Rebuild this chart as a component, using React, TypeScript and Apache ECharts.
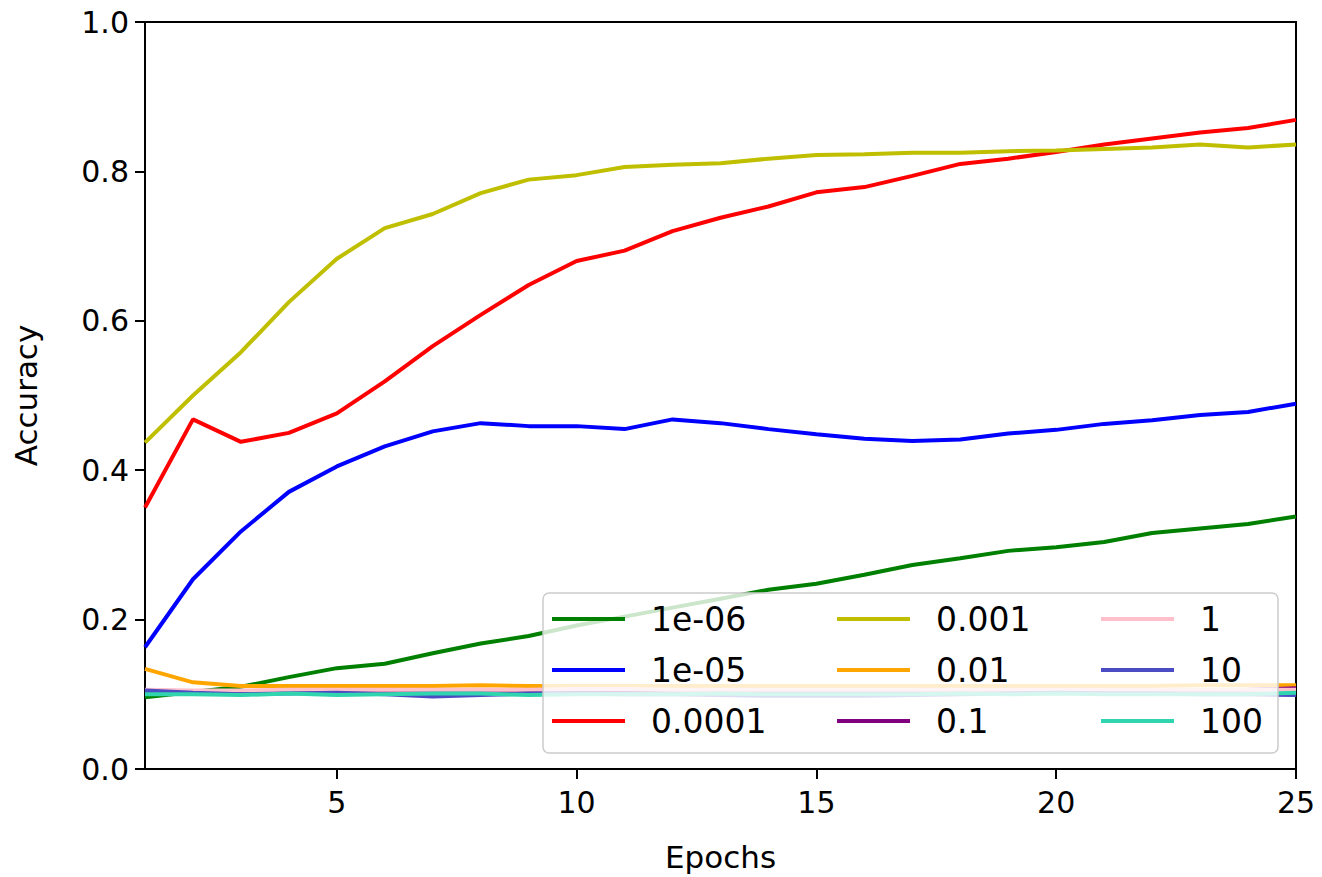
import React, { useEffect, useRef } from 'react';
import * as echarts from 'echarts';

const epochs = [1, 2, 3, 4, 5, 6, 7, 8, 9, 10, 11, 12, 13, 14, 15, 16, 17, 18, 19, 20, 21, 22, 23, 24, 25];
const xTicks = [5, 10, 15, 20, 25];

const seriesNames = ['1e-06', '1e-05', '0.0001', '0.001', '0.01', '0.1', '1', '10', '100'];
const seriesColors = ['#008000', '#0000ff', '#ff0000', '#bfbf00', '#ffa500', '#800080', '#ffc0cb', '#4b4bc4', '#30d5b0'];

const acc1e06 = [0.096, 0.103, 0.110, 0.123, 0.135, 0.141, 0.155, 0.168, 0.178, 0.192, 0.204, 0.216, 0.228, 0.240, 0.248, 0.260, 0.273, 0.282, 0.292, 0.297, 0.304, 0.316, 0.322, 0.328, 0.338];
const acc1e05 = [0.163, 0.254, 0.318, 0.371, 0.405, 0.432, 0.452, 0.463, 0.459, 0.459, 0.455, 0.468, 0.463, 0.455, 0.448, 0.442, 0.439, 0.441, 0.449, 0.454, 0.462, 0.467, 0.474, 0.478, 0.489];
const acc1e04 = [0.350, 0.468, 0.438, 0.450, 0.476, 0.519, 0.566, 0.608, 0.648, 0.680, 0.694, 0.720, 0.738, 0.753, 0.772, 0.779, 0.794, 0.810, 0.817, 0.826, 0.836, 0.844, 0.852, 0.858, 0.869];
const acc1e03 = [0.437, 0.500, 0.558, 0.625, 0.683, 0.724, 0.743, 0.771, 0.789, 0.795, 0.806, 0.809, 0.811, 0.817, 0.822, 0.823, 0.825, 0.825, 0.827, 0.828, 0.830, 0.832, 0.836, 0.832, 0.836];
const acc1e02 = [0.134, 0.116, 0.111, 0.111, 0.111, 0.111, 0.111, 0.112, 0.111, 0.111, 0.111, 0.111, 0.111, 0.111, 0.111, 0.111, 0.111, 0.111, 0.111, 0.111, 0.111, 0.111, 0.112, 0.112, 0.112];
const acc1e01 = [0.104, 0.104, 0.103, 0.104, 0.104, 0.104, 0.104, 0.104, 0.104, 0.105, 0.104, 0.104, 0.104, 0.104, 0.104, 0.104, 0.104, 0.104, 0.104, 0.104, 0.104, 0.104, 0.105, 0.106, 0.108];
const acc1e00 = [0.106, 0.105, 0.105, 0.106, 0.106, 0.106, 0.106, 0.106, 0.106, 0.107, 0.107, 0.106, 0.106, 0.106, 0.106, 0.106, 0.106, 0.106, 0.106, 0.106, 0.106, 0.106, 0.106, 0.106, 0.106];
const acc1e1 = [0.105, 0.102, 0.100, 0.101, 0.102, 0.100, 0.097, 0.099, 0.101, 0.101, 0.100, 0.100, 0.099, 0.098, 0.098, 0.098, 0.099, 0.100, 0.101, 0.102, 0.101, 0.101, 0.100, 0.100, 0.099];
const acc1e2 = [0.100, 0.100, 0.099, 0.101, 0.099, 0.100, 0.101, 0.101, 0.099, 0.100, 0.100, 0.100, 0.101, 0.100, 0.100, 0.100, 0.100, 0.101, 0.100, 0.101, 0.100, 0.100, 0.100, 0.100, 0.102];

const seriesValues = [acc1e06, acc1e05, acc1e04, acc1e03, acc1e02, acc1e01, acc1e00, acc1e1, acc1e2];

const legendColumns = [
  ['1e-06', '1e-05', '0.0001'],
  ['0.001', '0.01', '0.1'],
  ['1', '10', '100'],
];
const legendLefts = [552, 837, 1101];

const FONT = '"DejaVu Sans", sans-serif';

export default function App() {
  const ref = useRef<HTMLDivElement>(null);
  useEffect(() => {
    if (!ref.current) return;
    const chart = echarts.init(ref.current, null, { renderer: 'svg' });
    const option: any = {
      animation: false,
      backgroundColor: '#ffffff',
      grid: {
        left: 145,
        right: 26,
        top: 22,
        bottom: 107,
        show: true,
        borderColor: '#000000',
        borderWidth: 2,
        backgroundColor: 'transparent',
      },
      xAxis: {
        type: 'value',
        min: 1,
        max: 25,
        name: 'Epochs',
        nameLocation: 'middle',
        nameGap: 72,
        nameTextStyle: { fontFamily: FONT, fontSize: 31, color: '#000' },
        axisLine: { show: true, lineStyle: { color: '#000', width: 2 } },
        axisTick: { show: true, length: 10, lineStyle: { color: '#000', width: 2 }, customValues: xTicks },
        axisLabel: { fontFamily: FONT, fontSize: 30, color: '#000', margin: 18, customValues: xTicks },
        splitLine: { show: false },
      },
      yAxis: {
        type: 'value',
        min: 0,
        max: 1,
        interval: 0.2,
        name: 'Accuracy',
        nameLocation: 'middle',
        nameGap: 104,
        nameTextStyle: { fontFamily: FONT, fontSize: 31, color: '#000' },
        axisLine: { show: true, lineStyle: { color: '#000', width: 2 } },
        axisTick: { show: true, length: 10, lineStyle: { color: '#000', width: 2 } },
        axisLabel: {
          fontFamily: FONT,
          fontSize: 30,
          color: '#000',
          margin: 16,
          formatter: (v: number) => v.toFixed(1),
        },
        splitLine: { show: false },
      },
      legend: legendColumns.map((col, i) => ({
        data: col,
        orient: 'vertical',
        left: legendLefts[i],
        top: 599,
        icon: 'rect',
        itemWidth: 73,
        itemHeight: 4,
        itemGap: 11,
        padding: 0,
        z: 20,
        selectedMode: false,
        textStyle: {
          fontFamily: FONT,
          fontSize: 33,
          color: '#000',
          lineHeight: 40,
          padding: [0, 0, 0, 21],
        },
      })),
      graphic: [
        {
          type: 'rect',
          z: 10,
          shape: { x: 543, y: 593, width: 735, height: 160, r: 6 },
          style: { fill: 'rgba(255,255,255,0.8)', stroke: '#cccccc', lineWidth: 1.5 },
        },
      ],
      series: seriesNames.map((name, i) => ({
        name,
        type: 'line',
        data: epochs.map((e, j) => [e, seriesValues[i][j]]),
        showSymbol: false,
        symbol: 'none',
        lineStyle: { color: seriesColors[i], width: 4 },
        itemStyle: { color: seriesColors[i] },
        clip: true,
      })),
    };
    chart.setOption(option);
    return () => chart.dispose();
  }, []);
  return <div ref={ref} style={{ position: 'fixed', left: 0, top: 0, width: 1322, height: 877 }} />;
}
